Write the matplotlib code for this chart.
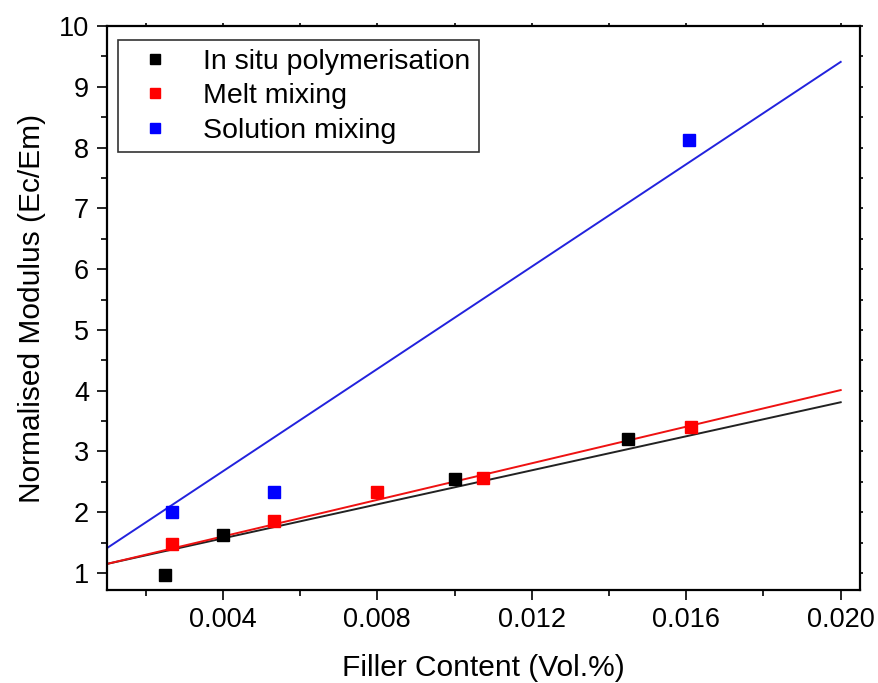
import matplotlib
matplotlib.use("Agg")
import matplotlib.pyplot as plt
from matplotlib.ticker import MultipleLocator, FixedLocator

plt.rcParams['font.family'] = ['Liberation Sans', 'DejaVu Sans']

# data
insitu_x = [0.0025, 0.0040, 0.0100, 0.0145]
insitu_y = [0.97, 1.63, 2.55, 3.21]
melt_x = [0.00268, 0.00532, 0.0080, 0.01074, 0.01612]
melt_y = [1.48, 1.86, 2.34, 2.57, 3.41]
solution_x = [0.00268, 0.00532, 0.01607]
solution_y = [2.00, 2.34, 8.12]

# fitted lines (end points)
fit_x = [0.001, 0.020]
insitu_fit = [1.15, 3.81]
melt_fit = [1.15, 4.01]
solution_fit = [1.41, 9.41]

labels = ["In situ polymerisation", "Melt mixing", "Solution mixing"]
xticks = [0.004, 0.008, 0.012, 0.016, 0.020]

fig = plt.figure(figsize=(8.79, 6.83), dpi=100)
ax = fig.add_axes([0.1217, 0.1361, 0.8567, 0.8258])

ax.plot(fit_x, insitu_fit, color='#222222', lw=1.4, zorder=2)
ax.plot(fit_x, melt_fit, color='#ee1111', lw=1.4, zorder=2)
ax.plot(fit_x, solution_fit, color='#2222dd', lw=1.4, zorder=2)

ax.plot(insitu_x, insitu_y, 's', color='black', ms=9, label=labels[0], zorder=3)
ax.plot(melt_x, melt_y, 's', color='red', ms=9, label=labels[1], zorder=3)
ax.plot(solution_x, solution_y, 's', color='blue', ms=9, label=labels[2], zorder=3)

ax.set_xlim(0.001, 0.0205)
ax.set_ylim(0.72, 10)
ax.xaxis.set_major_locator(FixedLocator(xticks))
ax.set_xticklabels([f"{t:.3f}" for t in xticks])
ax.xaxis.set_minor_locator(MultipleLocator(0.002))
ax.yaxis.set_major_locator(MultipleLocator(1))
ax.yaxis.set_minor_locator(MultipleLocator(0.5))

for s in ax.spines.values():
    s.set_linewidth(1.6)
ax.tick_params(which='major', direction='out', length=7, width=1.2, labelsize=19.5, pad=6)
ax.tick_params(which='minor', direction='out', length=4.5, width=1.2)
ax.tick_params(axis='x', which='major', pad=5)
ax.tick_params(which='both', top=True, right=True)
# top / right ticks only as tiny nubs
for t in ax.xaxis.get_ticklines(minor=False)[1::2] + ax.yaxis.get_ticklines(minor=False)[1::2]:
    t.set_markersize(2)
for t in ax.xaxis.get_ticklines(minor=True)[1::2] + ax.yaxis.get_ticklines(minor=True)[1::2]:
    t.set_markersize(2)

ax.set_xlabel("Filler Content (Vol.%)", fontsize=21.5, labelpad=15)
ax.set_ylabel("Normalised Modulus (Ec/Em)", fontsize=21.5, labelpad=9)

leg = ax.legend(loc='upper left', bbox_to_anchor=(0.0146, 0.975), borderaxespad=0,
                fontsize=20.5, frameon=True, fancybox=False, edgecolor='black',
                handlelength=2.0, handletextpad=0.7, labelspacing=0.3,
                borderpad=0.3, markerscale=0.85)
leg.get_frame().set_linewidth(1.2)

fig.savefig("out.png", dpi=100)
